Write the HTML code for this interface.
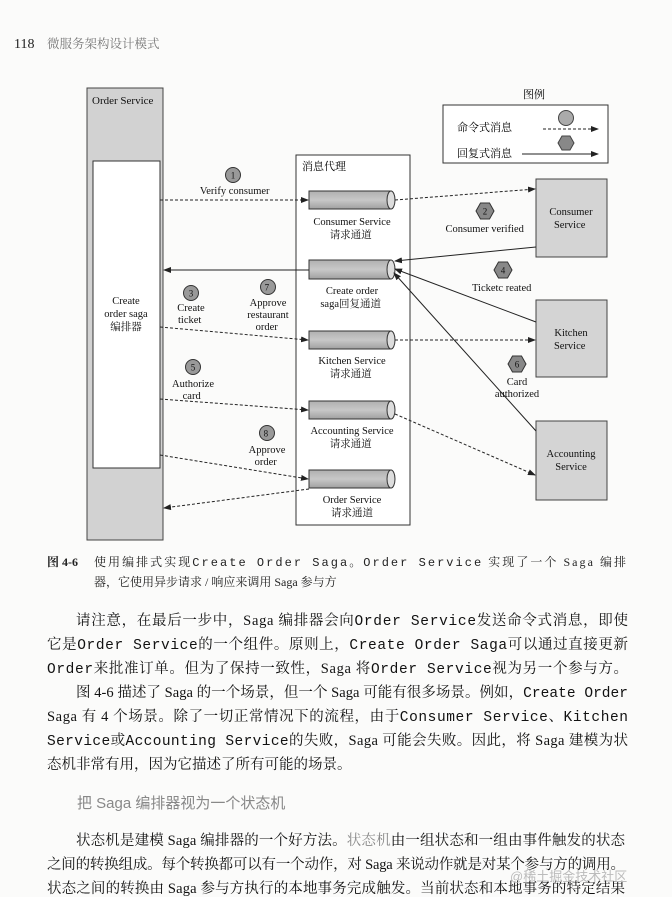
<!DOCTYPE html>
<html><head><meta charset="utf-8"><style>
html,body{margin:0;padding:0;background:#fbfbfa;}
svg{display:block;}
.s{font-family:"Liberation Serif","Noto Serif CJK SC",serif;}
.m{font-family:"Liberation Mono","Noto Serif CJK SC",monospace;}
</style></head><body>
<svg width="672" height="897" viewBox="0 0 672 897" xmlns="http://www.w3.org/2000/svg" class="s">
<defs>
<marker id="a" markerWidth="8" markerHeight="6" refX="7" refY="3" orient="auto" markerUnits="userSpaceOnUse"><path d="M0,0 L8,3 L0,6 z" fill="#222"/></marker>
<linearGradient id="cy" x1="0" y1="0" x2="0" y2="1"><stop offset="0" stop-color="#b0b0b0"/><stop offset="0.5" stop-color="#c8c8c8"/><stop offset="1" stop-color="#a0a0a0"/></linearGradient>
</defs>
<text x="14" y="48" font-size="14" fill="#222">118</text>
<text x="47" y="48" font-size="12.5" fill="#777">微服务架构设计模式</text>

<rect x="87" y="88" width="76" height="452" fill="#d2d2d2" stroke="#444"/>
<text x="92" y="104" font-size="11" fill="#111">Order Service</text>
<rect x="93" y="161" width="67" height="307" fill="#fff" stroke="#333"/>
<text font-size="10.5" text-anchor="middle" fill="#111"><tspan x="126" y="304">Create</tspan><tspan x="126" y="317">order saga</tspan><tspan x="126" y="330">编排器</tspan></text>

<rect x="296" y="155" width="114" height="370" fill="#fff" stroke="#333"/>
<text x="302" y="170" font-size="11">消息代理</text>

<g stroke="#333" stroke-width="1" fill="url(#cy)">
<rect x="309" y="191" width="82" height="18"/><ellipse cx="391" cy="200" rx="4" ry="9" fill="#ddd"/>
<rect x="309" y="260" width="82" height="19"/><ellipse cx="391" cy="269.5" rx="4" ry="9.5" fill="#ddd"/>
<rect x="309" y="331" width="82" height="18"/><ellipse cx="391" cy="340" rx="4" ry="9" fill="#ddd"/>
<rect x="309" y="401" width="82" height="18"/><ellipse cx="391" cy="410" rx="4" ry="9" fill="#ddd"/>
<rect x="309" y="470" width="82" height="18"/><ellipse cx="391" cy="479" rx="4" ry="9" fill="#ddd"/>
</g>
<text font-size="10.5" text-anchor="middle" fill="#111">
<tspan x="352" y="225">Consumer Service</tspan><tspan x="352" y="238">请求通道</tspan>
<tspan x="352" y="294">Create order</tspan><tspan x="352" y="307">saga回复通道</tspan>
<tspan x="352" y="364">Kitchen Service</tspan><tspan x="352" y="377">请求通道</tspan>
<tspan x="352" y="434">Accounting Service</tspan><tspan x="352" y="447">请求通道</tspan>
<tspan x="352" y="503">Order Service</tspan><tspan x="352" y="516">请求通道</tspan>
</text>

<g fill="#d4d4d4" stroke="#444">
<rect x="536" y="179" width="71" height="78"/>
<rect x="536" y="300" width="71" height="77"/>
<rect x="536" y="421" width="71" height="79"/>
</g>
<text font-size="10.5" text-anchor="middle" fill="#111">
<tspan x="571" y="215">Consumer</tspan><tspan x="571" y="228">Service</tspan>
<tspan x="571" y="336">Kitchen</tspan><tspan x="571" y="349">Service</tspan>
<tspan x="571" y="457">Accounting</tspan><tspan x="571" y="470">Service</tspan>
</text>

<text x="523" y="98" font-size="11">图例</text>
<rect x="443" y="105" width="165" height="58" fill="#fff" stroke="#333"/>
<text x="457" y="131" font-size="11">命令式消息</text>
<text x="457" y="157" font-size="11">回复式消息</text>
<circle cx="566" cy="118" r="7.5" fill="#aaa" stroke="#444"/>
<polygon points="558,143 562,136 570,136 574,143 570,150 562,150" fill="#888" stroke="#444"/>
<line x1="543" y1="129" x2="598" y2="129" stroke="#222" stroke-dasharray="3,2" marker-end="url(#a)"/>
<line x1="522" y1="154" x2="598" y2="154" stroke="#222" marker-end="url(#a)"/>

<g stroke="#222" stroke-width="1" fill="none">
<line x1="160" y1="200" x2="308" y2="200" stroke-dasharray="3,2" marker-end="url(#a)"/>
<line x1="395" y1="200" x2="535" y2="189" stroke-dasharray="3,2" marker-end="url(#a)"/>
<line x1="536" y1="247" x2="395" y2="261" marker-end="url(#a)"/>
<line x1="536" y1="322" x2="395" y2="269" marker-end="url(#a)"/>
<line x1="536" y1="431" x2="394" y2="273" marker-end="url(#a)"/>
<line x1="309" y1="270" x2="164" y2="270" marker-end="url(#a)"/>
<line x1="160" y1="327" x2="308" y2="340" stroke-dasharray="3,2" marker-end="url(#a)"/>
<line x1="395" y1="340" x2="535" y2="340" stroke-dasharray="3,2" marker-end="url(#a)"/>
<line x1="160" y1="399" x2="308" y2="410" stroke-dasharray="3,2" marker-end="url(#a)"/>
<line x1="395" y1="414" x2="535" y2="475" stroke-dasharray="3,2" marker-end="url(#a)"/>
<line x1="160" y1="455" x2="308" y2="479" stroke-dasharray="3,2" marker-end="url(#a)"/>
<line x1="309" y1="489" x2="164" y2="508" stroke-dasharray="3,2" marker-end="url(#a)"/>
</g>

<g fill="#999" stroke="#333">
<circle cx="233" cy="175" r="7.5"/><circle cx="191" cy="293" r="7.5"/><circle cx="268" cy="287" r="7.5"/>
<circle cx="193" cy="367" r="7.5"/><circle cx="267" cy="433" r="7.5"/>
</g>
<g fill="#888" stroke="#333">
<polygon points="476,211 480.5,203 489.5,203 494,211 489.5,219 480.5,219"/>
<polygon points="494,270 498.5,262 507.5,262 512,270 507.5,278 498.5,278"/>
<polygon points="508,364 512.5,356 521.5,356 526,364 521.5,372 512.5,372"/>
</g>
<text font-size="9" text-anchor="middle" fill="#111">
<tspan x="233" y="178.5">1</tspan><tspan x="191" y="296.5">3</tspan><tspan x="268" y="290.5">7</tspan>
<tspan x="193" y="370.5">5</tspan><tspan x="267" y="436.5">8</tspan>
<tspan x="485" y="214.5">2</tspan><tspan x="503" y="273.5">4</tspan><tspan x="517" y="367.5">6</tspan>
</text>
<text font-size="10.5" text-anchor="middle" fill="#111">
<tspan x="236" y="194">Verify consumer</tspan>
<tspan x="191" y="311">Create</tspan><tspan x="191" y="323">ticket</tspan>
<tspan x="268" y="306">Approve</tspan><tspan x="268" y="318">restaurant</tspan><tspan x="268" y="330">order</tspan>
<tspan x="193" y="387">Authorize</tspan><tspan x="193" y="399">card</tspan>
<tspan x="267" y="453">Approve</tspan><tspan x="267" y="465">order</tspan>
<tspan x="486" y="232">Consumer verified</tspan>
<tspan x="503" y="291">Ticketc reated</tspan>
<tspan x="517" y="385">Card</tspan><tspan x="517" y="397">authorized</tspan>
</text>

<text y="566" font-size="12" fill="#222"><tspan x="47" font-weight="bold">图 4-6</tspan></text>
<text x="94" y="566" font-size="12" fill="#222" textLength="532" lengthAdjust="spacing">使用编排式实现<tspan class="m">Create Order Saga</tspan>。<tspan class="m">Order Service</tspan> 实现了一个 Saga 编排</text>
<text x="94" y="586" font-size="12" fill="#222">器，它使用异步请求 / 响应来调用 Saga 参与方</text>

<g font-size="14.5" fill="#111">
<text x="76" y="625" textLength="552" lengthAdjust="spacing">请注意，在最后一步中，Saga 编排器会向<tspan class="m">Order Service</tspan>发送命令式消息，即使</text>
<text x="47" y="649" textLength="581" lengthAdjust="spacing">它是<tspan class="m">Order Service</tspan>的一个组件。原则上，<tspan class="m">Create Order Saga</tspan>可以通过直接更新</text>
<text x="47" y="673" textLength="581" lengthAdjust="spacing"><tspan class="m">Order</tspan>来批准订单。但为了保持一致性，Saga 将<tspan class="m">Order Service</tspan>视为另一个参与方。</text>
<text x="76" y="697" textLength="552" lengthAdjust="spacing">图 4-6 描述了 Saga 的一个场景，但一个 Saga 可能有很多场景。例如，<tspan class="m">Create Order</tspan></text>
<text x="47" y="721" textLength="581" lengthAdjust="spacing">Saga 有 4 个场景。除了一切正常情况下的流程，由于<tspan class="m">Consumer Service</tspan>、<tspan class="m">Kitchen</tspan></text>
<text x="47" y="745" textLength="581" lengthAdjust="spacing"><tspan class="m">Service</tspan>或<tspan class="m">Accounting Service</tspan>的失败，Saga 可能会失败。因此，将 Saga 建模为状</text>
<text x="47" y="769">态机非常有用，因为它描述了所有可能的场景。</text>
<text x="77" y="808" font-family="'Liberation Sans','Noto Sans CJK SC',sans-serif" fill="#888" font-size="15">把 Saga 编排器视为一个状态机</text>
<text x="76" y="845" textLength="549" lengthAdjust="spacing">状态机是建模 Saga 编排器的一个好方法。<tspan fill="#888">状态机</tspan>由一组状态和一组由事件触发的状态</text>
<text x="47" y="869" textLength="578" lengthAdjust="spacing">之间的转换组成。每个转换都可以有一个动作，对 Saga 来说动作就是对某个参与方的调用。</text>
<text x="47" y="893" textLength="578" lengthAdjust="spacing">状态之间的转换由 Saga 参与方执行的本地事务完成触发。当前状态和本地事务的特定结果</text>
<text x="510" y="881" font-size="13" fill="#bbb" font-family="'Liberation Sans','Noto Sans CJK SC',sans-serif">@稀土掘金技术社区</text>
</g>
</svg>
</body></html>
